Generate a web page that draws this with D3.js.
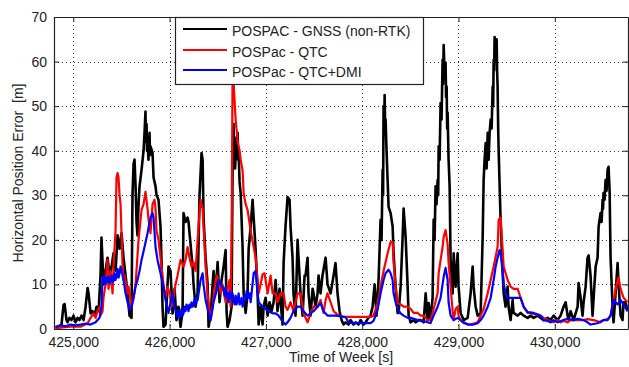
<!DOCTYPE html>
<html>
<head>
<meta charset="utf-8">
<script src="https://cdn.jsdelivr.net/npm/d3@7"></script>
<style>
  html, body { margin: 0; padding: 0; background: #fff; }
  svg { display: block; font-family: "Liberation Sans", Arial, sans-serif; }
</style>
</head>
<body>
<svg id="chart" width="629" height="367"></svg>
<script>
// Horizontal position error vs. time of week for three POSPac solutions.
// Each series is a list of [time of week (s), error (m)] samples.

const seriesNames = ["POSPAC - GNSS (non-RTK)", "POSPac - QTC", "POSPac - QTC+DMI"];
const seriesColors = ["#000000", "#ff0000", "#0000ff"];

const gnssSeries = [
  [424816,0.3],[424847,0.5],[424878,1],[424899,5.4],[424910,5.6],[424930,2],[424941,1.5],[424961,2.5],
  [424982,2],[425003,3],[425024,1.5],[425045,2.5],[425065,2],[425086,3],[425107,2],[425128,5],
  [425149,9.2],[425159,8],[425180,3.5],[425200,4],[425221,3],[425242,5],[425263,4],[425283,12],
  [425293,20.5],[425314,10],[425335,13],[425356,16],[425377,12],[425398,14],[425418,17],[425439,13],
  [425460,21],[425481,18],[425501,21.5],[425522,16],[425543,12],[425564,8],[425584,3],[425605,2.5],
  [425615,30],[425626,37],[425636,38],[425647,32],[425657,24],[425667,21],[425678,28],[425688,32],
  [425709,35.7],[425730,40],[425740,44],[425750,48.8],[425755,42],[425761,46],[425766,40],[425771,42],
  [425781,38],[425792,44],[425797,39],[425802,41],[425823,39.5],
  [425834,34],[425854,32],[425865,30],[425885,29],[425906,23],[425916,15.5],[425927,5],[425937,0.5],
  [425958,1],[425979,10],[425989,14],[426010,13],[426031,3.5],[426052,9],[426072,2],[426093,5],
  [426114,0.5],[426135,4],[426145,26],[426166,24],[426187,25],[426197,24],[426218,19],[426239,14],
  [426249,10],[426270,5],[426291,8],[426311,30],[426332,39.5],[426343,38],[426353,25],[426374,16],
  [426395,10],[426405,0.5],[426426,3],[426447,10],[426457,13],[426478,8],[426499,15],[426519,6],
  [426540,11],[426561,14],[426582,17.7],[426592,4],[426602,0.5],[426623,2],[426644,5],[426654,35],
  [426660,42],[426665,46],[426670,38],[426675,43],[426680,36],[426686,38.6],[426696,40],[426707,44],
  [426712,38],[426717,39.5],[426727,33],[426738,30.5],[426758,18.4],[426769,8],
  [426790,3.6],[426810,8],[426821,18],[426842,23],[426862,29],[426873,25],[426893,18],[426914,8],
  [426925,1],[426945,5],[426966,1],[426976,5],[426997,7],[427018,3],[427038,6],[427059,4],
  [427080,6],[427101,11],[427121,4],[427142,9],[427173,1],[427184,14.8],[427204,23],[427225,29.6],
  [427246,29],[427256,23],[427277,16],[427287,8],[427308,3],[427329,20],[427339,16],[427360,8],
  [427381,3],[427402,12],[427412,12],[427433,16],[427443,8],[427464,3],[427485,9],[427495,8],
  [427516,5],[427537,8],[427547,12],[427568,8],[427588,12],[427620,16],[427640,10],[427672,8],
  [427703,12],[427723,14.8],[427744,8],[427765,4],[427786,2],[427806,1],[427827,1.5],[427858,1],
  [427879,2],[427910,1],[427931,1.5],[427962,1],[427983,2],[428014,1],[428035,1.5],[428066,2.5],
  [428087,3],[428108,5],[428129,10],[428149,3],[428170,11],[428191,24.5],[428201,20],[428212,35.7],
  [428217,30],[428222,50],[428227,44],[428233,52.5],[428238,46],[428243,47],[428253,40],[428264,33.4],
  [428274,27.4],[428295,26],[428316,23],[428326,17],[428347,9.5],
  [428368,3.6],[428378,3.6],[428399,9.5],[428420,20.7],[428430,27],[428451,20.7],[428472,9.5],[428482,3],
  [428503,1.5],[428534,2],[428555,1.5],[428586,2],[428607,2],[428638,1.5],[428659,8],[428679,2],
  [428690,5.8],[428710,2],[428731,7],[428742,24.5],[428752,20],[428762,32],[428772,28],[428783,33.4],
  [428789,30],[428794,41],[428804,38],[428814,50.7],[428824,47],[428835,60.4],[428840,55],[428846,63.7],
  [428856,57],[428866,59.7],[428871,52],[428877,54.4],[428882,45],[428887,48.5],[428897,38],[428908,32],
  [428918,15.5],[428939,8],
  [428950,17],[428970,9.5],[428991,17],[429001,9.5],[429022,3.6],[429054,2],[429095,2.5],[429126,8],
  [429147,14],[429157,9.5],[429178,5],[429199,3],[429230,3.5],[429251,20.7],[429261,33.4],[429271,38],
  [429282,41.7],[429292,36],[429303,44],[429313,38],[429323,44],[429334,47],[429344,45],[429355,54.4],
  [429360,50],[429365,60.4],[429370,58],[429375,65.5],[429386,60],[429396,65],[429401,58],[429406,54.4],
  [429412,45],[429417,40],[429437,24.5],[429458,13],[429469,8],[429489,5],[429510,9.5],[429520,5],[429541,2],
  [429562,6.5],[429572,3.6],[429614,3],[429645,3.6],[429676,3],[429718,2.5],[429749,3],[429780,2.5],
  [429822,3],[429853,2.5],[429884,2],[429925,2.5],[429956,2],[429988,3],[430029,2],[430060,3],
  [430091,5],[430112,6],[430133,3],[430143,2],[430164,4],[430195,2],[430237,5],[430247,10.3],
  [430268,7],[430288,3],[430299,6],[430320,9.5],[430340,16],[430351,16.5],[430371,12],[430392,3],
  [430403,7],[430424,14],[430444,16],[430455,23],[430475,26],[430486,24],[430496,29],[430501,27],
  [430506,30.5],[430517,29],[430527,33.4],[430537,31],
  [430548,35.7],[430558,36.4],[430569,31],[430579,16],[430600,5],[430610,1.5],[430631,8],[430652,14.8],
  [430662,10],[430683,3],[430703,2],[430714,6],[430735,6],[430755,4]
];

const qtcSeries = [
  [424816,0],[424868,0.3],[424972,0.5],[425076,0.5],[425149,1.3],[425180,2.5],[425211,3.5],[425232,2.5],
  [425252,4],[425273,5],[425283,3],[425304,4],[425314,7],[425335,10],[425356,15.5],[425366,9],
  [425387,13],[425408,8],[425418,14],[425439,22],[425449,34],[425460,35],[425470,34],[425481,30],
  [425491,28],[425501,21.5],[425512,14],[425522,11],[425532,12],[425553,9.5],[425564,8],[425574,9.5],
  [425595,6.5],[425605,5],[425626,7],[425647,10],[425678,20],[425709,26.7],[425730,28],[425750,30.8],
  [425771,27],[425782,24.5],[425802,21.5],[425823,28],[425844,29],[425854,27],[425865,22],[425885,20],
  [425906,16],[425916,14],[425937,10],[425958,7],[425979,9.5],[425999,8],[426020,5],[426041,7],
  [426062,10],[426083,12],[426114,15.5],[426145,14],[426166,15.5],[426187,18.4],[426207,16],[426228,14],
  [426249,15],[426270,13],[426291,20],[426311,26],[426322,29],[426343,27],[426353,23],[426374,14],
  [426395,8],[426405,6],[426426,2],[426447,5],[426467,9],[426488,12],[426509,11],[426530,8],
  [426550,10],[426582,6],[426602,9],[426623,11],[426633,5],[426644,20],[426654,57],[426665,55],
  [426686,47],[426707,42],[426727,40],[426738,38],[426758,35.6],[426769,30.5],[426790,28],[426810,26.7],
  [426842,22],[426873,18.4],[426893,16],[426914,11],[426925,8],[426945,10],[426966,12.3],[426987,12.5],
  [426997,11],[427018,8],[427049,12],[427070,8],[427101,8],[427121,6],[427152,8],[427184,8],
  [427204,5],[427225,4.3],[427256,6],[427287,4],[427308,6],[427329,8],[427360,8],[427391,3.6],
  [427433,1.5],[427464,3.6],[427495,5],[427537,5],[427568,6.5],[427599,3.6],[427620,6.5],[427640,8],
  [427672,6],[427703,4],[427723,3.6],[427755,3],[427806,2.7],[427879,2.7],[427983,2.7],[428087,2.7],
  [428118,3],[428160,5.8],[428191,9.5],[428222,13],[428264,17],[428295,19.5],[428316,19.5],[428326,15],
  [428347,9.5],[428368,5.8],[428399,5.5],[428430,5],[428472,5],[428503,4.5],[428534,3.6],[428576,3.6],
  [428607,3],[428638,3],[428679,2],[428710,2],[428742,4.5],[428783,8],[428794,12.5],[428814,15.5],
  [428835,18.4],[428846,20.7],[428866,22.2],[428887,19],[428897,15],[428918,9.5],[428939,4],[428950,2],
  [428970,4.5],[428991,5],[429001,3],[429022,2],[429054,1.3],[429126,1],[429199,1.5],[429230,3],
  [429261,4.5],[429303,8],[429334,11],[429365,14],[429406,18.4],[429417,24.5],[429437,25],[429458,18],
  [429469,14],[429510,11],[429541,9.5],[429572,9],[429614,9],[429645,7],[429676,5],[429718,3.6],
  [429749,3.6],[429780,3.4],[429822,3.2],[429853,3],[429884,2.5],[429925,2],[429956,1.7],[429988,1.5],
  [430029,2],[430060,1.5],[430091,1.8],[430133,1.5],[430164,2],[430237,2],[430299,2],[430340,2.2],
  [430403,2],[430475,1.5],[430506,2],[430548,2.2],[430579,3],[430610,6.5],[430652,11],[430662,11.5],
  [430683,9],[430714,7],[430755,6]
];

const qtcDmiSeries = [
  [424816,0.5],[424868,0.8],[424920,0.6],[424972,1],[425024,0.8],[425076,1],[425128,1.2],[425180,1],
  [425232,1.5],[425252,2],[425273,2.5],[425293,5],[425304,11.7],[425314,10.5],[425325,12],[425335,10],
  [425345,11.5],[425356,10.5],[425366,11.8],[425377,10.3],[425387,11],[425398,12],[425408,10.5],[425418,10.8],
  [425428,12.5],[425439,11],[425449,11.8],[425460,13.5],[425470,11.5],[425481,12.5],[425491,14],[425501,13.2],
  [425522,11],[425543,8],[425564,6],[425584,4.3],
  [425605,5],[425626,7],[425647,9.5],[425667,11],[425688,13],[425709,15.5],[425740,18.4],[425771,21.5],
  [425802,25],[425823,26],[425834,25],[425854,18.4],[425875,15.5],[425906,12.5],[425937,9.5],[425958,6.5],
  [425989,3.6],[426010,6],[426031,8],[426041,6],[426083,2.7],[426093,4],[426104,2.5],[426114,3],
  [426124,4.5],[426135,3],[426145,3.5],[426156,5],[426166,4],[426176,5.5],[426187,5],[426197,4],
  [426207,5.5],[426218,4.8],[426228,6],[426239,5],[426249,5.5],[426260,6.8],[426270,5.5],[426280,7],
  [426291,6.5],[426322,11],[426343,12.5],[426353,10],[426374,6.5],[426405,3.6],
  [426426,2],[426457,6],[426499,9.5],[426509,11],[426530,10],[426561,9],[426571,7.5],[426582,9.5],
  [426592,7],[426602,8],[426612,6],[426623,8.5],[426633,8],[426644,6.5],[426654,8],[426665,6.5],
  [426675,5.5],[426686,7.5],[426696,5.5],[426707,6.5],[426717,8],[426727,5.5],[426738,5.8],[426748,7],
  [426758,5],[426769,6],[426779,7.5],[426790,6.5],[426800,8.5],[426810,8],[426821,7],[426831,8],
  [426842,6],[426873,12.5],[426893,13],
  [426914,8],[426925,6],[426966,5],[426997,4.5],[427028,4],[427070,3.5],[427101,3.5],[427132,3],
  [427173,1.7],[427204,1],[427225,1.5],[427256,2.5],[427287,4],[427329,5],[427360,5],[427391,4],
  [427433,3],[427464,3.5],[427495,4],[427537,5],[427568,5.8],[427599,4],[427640,3],[427723,3],
  [427827,2.7],[427858,1.5],[427900,1.3],[427983,1.3],[428087,1.3],[428118,1.8],[428160,4.3],[428191,8],
  [428222,11],[428243,12.5],[428274,13.3],[428295,12.5],[428316,11],[428326,8],[428347,6],[428368,4.5],
  [428399,3.5],[428430,3],[428472,2.5],[428503,2.5],[428576,2],[428638,1.8],[428679,1.5],[428710,1.3],
  [428742,3],[428783,5],[428814,7],[428846,11.7],[428866,13.7],[428887,11],[428897,6],[428918,3],
  [428950,2],[428991,2.5],[429022,2],[429054,1.5],[429095,1],[429157,1],[429199,1.3],[429230,2],
  [429261,3],[429303,5],[429334,7],[429365,11],[429386,14],[429406,16],[429427,17.7],[429437,17],
  [429458,13],[429469,10.3],[429489,8],[429510,7],[429572,7],[429645,7],[429676,5],[429718,3.8],
  [429780,3.6],[429822,3.3],[429853,3],[429884,2],[429925,1.8],[429956,1.5],[429988,2],[430029,1.5],
  [430091,2],[430133,2.3],[430195,2],[430237,2.3],[430299,2],[430340,1.5],[430371,1],[430444,1.3],
  [430506,2],[430548,2],[430579,3],[430610,6.5],[430652,5.5],[430683,6.5],[430714,5.5],[430755,4]
];

const xTicks = [425000, 426000, 427000, 428000, 429000, 430000];
const yTicks = [0, 10, 20, 30, 40, 50, 60, 70];
const xDomain = [424800, 430760];
const yDomain = [0, 70];
const xTitle = "Time of Week [s]";
const yTitle = "Horizontal Position Error  [m]";

const allSeries = [gnssSeries, qtcSeries, qtcDmiSeries];
const lineWidths = [2.6, 2.2, 2.2];

// Plot box
const boxLeft = 54, boxRight = 628, boxTop = 17, boxBottom = 329;

const svg = d3.select("#chart");
const x = d3.scaleLinear().domain(xDomain).range([boxLeft, boxRight]);
const y = d3.scaleLinear().domain(yDomain).range([boxBottom, boxTop]);

// Dotted grid
const gridColor = "#333";
const grid = svg.append("g").attr("class", "grid");
grid.selectAll("line.gx").data(xTicks).join("line")
  .attr("x1", d => Math.round(x(d)) + 0.5).attr("x2", d => Math.round(x(d)) + 0.5)
  .attr("y1", boxTop).attr("y2", boxBottom)
  .attr("stroke", gridColor).attr("stroke-width", 1).attr("stroke-dasharray", "1,3");
grid.selectAll("line.gy").data(yTicks.filter(v => v > yDomain[0] && v < yDomain[1])).join("line")
  .attr("x1", boxLeft).attr("x2", boxRight)
  .attr("y1", d => Math.round(y(d)) + 0.5).attr("y2", d => Math.round(y(d)) + 0.5)
  .attr("stroke", gridColor).attr("stroke-width", 1).attr("stroke-dasharray", "1,3");

// Data lines, clipped to the plot box
svg.append("clipPath").attr("id", "plotClip").append("rect")
  .attr("x", boxLeft).attr("y", boxTop).attr("width", boxRight - boxLeft).attr("height", boxBottom - boxTop);

const line = d3.line().x(d => x(d[0])).y(d => y(d[1]));
const plot = svg.append("g").attr("clip-path", "url(#plotClip)");
allSeries.forEach((s, i) => {
  plot.append("path").datum(s)
    .attr("d", line)
    .attr("fill", "none")
    .attr("stroke", seriesColors[i])
    .attr("stroke-width", lineWidths[i])
    .attr("stroke-linejoin", "round");
});

// Axes with inward ticks on all four sides
const fmt = d3.format(",");
const axisColor = "#222";
const bottomAxis = svg.append("g").attr("transform", `translate(0,${boxBottom})`)
  .call(d3.axisBottom(x).tickValues(xTicks).tickFormat(fmt).tickSizeInner(-5).tickSizeOuter(0).tickPadding(8));
const topAxis = svg.append("g").attr("transform", `translate(0,${boxTop})`)
  .call(d3.axisTop(x).tickValues(xTicks).tickFormat("").tickSizeInner(-5).tickSizeOuter(0));
const leftAxis = svg.append("g").attr("transform", `translate(${boxLeft},0)`)
  .call(d3.axisLeft(y).tickValues(yTicks).tickFormat(d3.format("d")).tickSizeInner(-5).tickSizeOuter(0).tickPadding(7));
const rightAxis = svg.append("g").attr("transform", `translate(${boxRight},0)`)
  .call(d3.axisRight(y).tickValues(yTicks).tickFormat("").tickSizeInner(-5).tickSizeOuter(0));

[bottomAxis, topAxis, leftAxis, rightAxis].forEach(g => {
  g.select(".domain").attr("stroke", axisColor).attr("stroke-width", 1.2);
  g.selectAll(".tick line").attr("stroke", axisColor);
  g.selectAll(".tick text").attr("fill", "#222").style("font-size", "14px")
    .style("font-family", '"Liberation Sans", Arial, sans-serif');
});

// Axis titles
svg.append("text")
  .attr("x", (boxLeft + boxRight) / 2).attr("y", 362)
  .attr("text-anchor", "middle").attr("fill", "#222").style("font-size", "14px")
  .text(xTitle);
svg.append("text")
  .attr("transform", `translate(23,${(boxTop + boxBottom) / 2}) rotate(-90)`)
  .attr("text-anchor", "middle").attr("fill", "#222").style("font-size", "14px")
  .style("white-space", "pre")
  .text(yTitle);

// Legend
const legend = svg.append("g");
legend.append("rect")
  .attr("x", 175.5).attr("y", boxTop + 0.5).attr("width", 248).attr("height", 67)
  .attr("fill", "#fff").attr("stroke", "#222").attr("stroke-width", 1.2);
const rowY = [29, 50, 70];
seriesNames.forEach((name, i) => {
  legend.append("line")
    .attr("x1", 183).attr("x2", 227).attr("y1", rowY[i]).attr("y2", rowY[i])
    .attr("stroke", seriesColors[i]).attr("stroke-width", 2);
  legend.append("text")
    .attr("x", 232).attr("y", rowY[i] + 6.5)
    .attr("fill", "#222").style("font-size", "14px")
    .text(name);
});
</script>
</body>
</html>
